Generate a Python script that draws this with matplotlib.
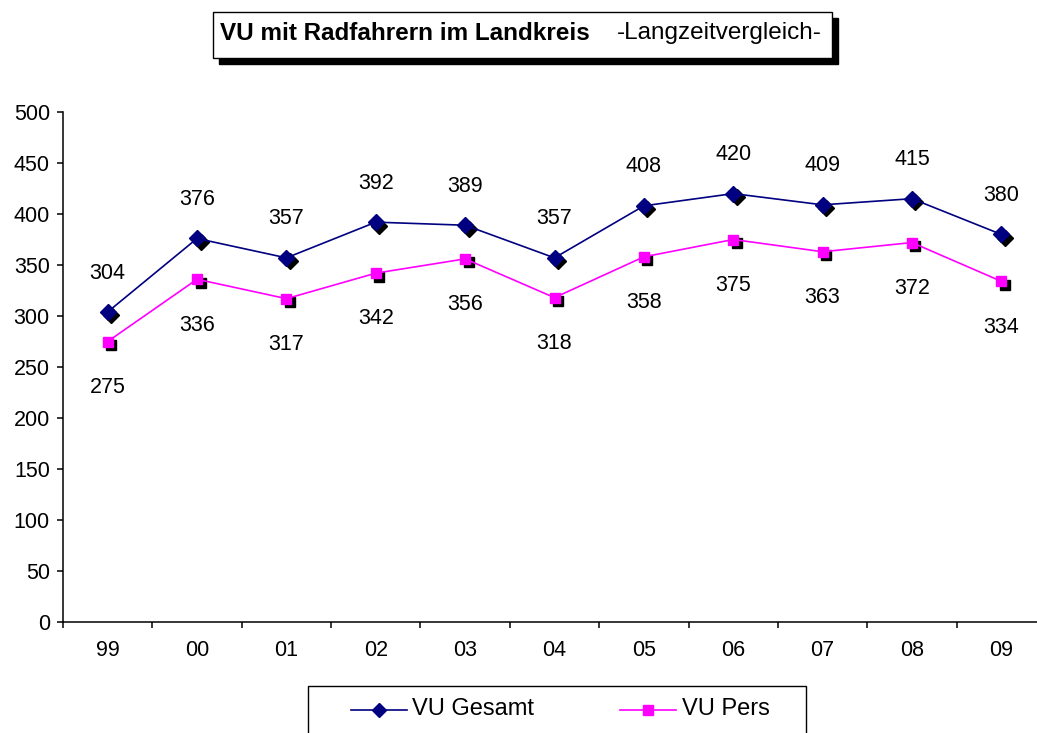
import matplotlib
matplotlib.use("Agg")
import matplotlib.pyplot as plt
import matplotlib.patches as mpatches
import matplotlib.transforms as mtransforms
from matplotlib.lines import Line2D

years = ["99", "00", "01", "02", "03", "04", "05", "06", "07", "08", "09"]
vu_gesamt = [304, 376, 357, 392, 389, 357, 408, 420, 409, 415, 380]
vu_pers = [275, 336, 317, 342, 356, 318, 358, 375, 363, 372, 334]

plt.rcParams["font.family"] = ["Liberation Sans", "DejaVu Sans"]

W, H = 1037, 733
fig = plt.figure(figsize=(W / 100, H / 100), dpi=100, facecolor="white")


def fx(px):
    return px / W


def fy(py):
    return 1 - py / H


ax = fig.add_axes([fx(63), fy(622), fx(1046 - 63), (622 - 112) / H])
ax.set_facecolor("white")

x = list(range(len(years)))
shadow = mtransforms.offset_copy(ax.transData, fig=fig, x=2.5, y=-2.5, units="points")

# black marker shadows
ax.plot(x, vu_gesamt, linestyle="none", marker="D", markersize=8.5,
        color="black", transform=shadow, zorder=2, clip_on=False)
ax.plot(x, vu_pers, linestyle="none", marker="s", markersize=7.5,
        color="black", transform=shadow, zorder=2, clip_on=False)

ax.plot(x, vu_gesamt, color="#000080", linewidth=1.2, marker="D", markersize=8.5,
        markeredgecolor="#000080", markerfacecolor="#000080", zorder=3, clip_on=False)
ax.plot(x, vu_pers, color="#ff00ff", linewidth=1.2, marker="s", markersize=7.5,
        markeredgecolor="#ff00ff", markerfacecolor="#ff00ff", zorder=3, clip_on=False)

for i, v in enumerate(vu_gesamt):
    ax.annotate(str(v), xy=(i, v), xytext=(0, 28), textcoords="offset points",
                ha="center", va="center", fontsize=15.5, color="black")
for i, v in enumerate(vu_pers):
    ax.annotate(str(v), xy=(i, v), xytext=(0, -33), textcoords="offset points",
                ha="center", va="center", fontsize=15.5, color="black")

ax.set_xlim(-0.5, len(years) - 0.5)
ax.set_ylim(0, 500)
ax.set_yticks(range(0, 501, 50))
ax.set_xticks(x)
ax.set_xticklabels(years)
ax.set_xticks([i - 0.5 for i in range(len(years) + 1)], minor=True)
ax.tick_params(axis="x", which="major", length=0, pad=13, labelsize=15.5)
ax.tick_params(axis="x", which="minor", length=4.5, width=1.1, direction="out")
ax.tick_params(axis="y", length=4.5, width=1.1, direction="out", pad=5, labelsize=15.5)
for side in ["top", "right"]:
    ax.spines[side].set_visible(False)
for side in ["left", "bottom"]:
    ax.spines[side].set_linewidth(1.1)
    ax.spines[side].set_color("black")

# title box with shadow
fig.add_artist(mpatches.Rectangle((fx(219), fy(64)), fx(833 - 214), (64 - 18) / H,
                                  transform=fig.transFigure, facecolor="black",
                                  edgecolor="black", zorder=1))
fig.add_artist(mpatches.Rectangle((fx(213), fy(58)), fx(833 - 214), (58 - 12) / H,
                                  transform=fig.transFigure, facecolor="white",
                                  edgecolor="black", linewidth=1.0, zorder=2))
fig.text(fx(220), fy(33), "VU mit Radfahrern im Landkreis", fontsize=17.5,
         fontweight="bold", ha="left", va="center", zorder=3)
fig.text(fx(617), fy(33), "-Langzeitvergleich-", fontsize=17.5,
         ha="left", va="center", zorder=3)

# legend box
fig.add_artist(mpatches.Rectangle((fx(308), fy(745)), fx(806 - 308), (745 - 686) / H,
                                  transform=fig.transFigure, facecolor="white",
                                  edgecolor="black", linewidth=1.0, zorder=2))
fig.add_artist(Line2D([fx(351), fx(407)], [fy(710), fy(710)], transform=fig.transFigure,
                      color="#000080", linewidth=1.2, zorder=3))
fig.add_artist(Line2D([fx(379)], [fy(710)], transform=fig.transFigure,
                      color="#000080", marker="D", markersize=7.5, linestyle="none", zorder=4))
fig.add_artist(Line2D([fx(620), fx(676)], [fy(710), fy(710)], transform=fig.transFigure,
                      color="#ff00ff", linewidth=1.2, zorder=3))
fig.add_artist(Line2D([fx(648)], [fy(710)], transform=fig.transFigure,
                      color="#ff00ff", marker="s", markersize=6.5, linestyle="none", zorder=4))
fig.text(fx(412), fy(709), "VU Gesamt", fontsize=17, ha="left", va="center", zorder=4)
fig.text(fx(682), fy(709), "VU Pers", fontsize=17, ha="left", va="center", zorder=4)

fig.savefig("out.png", dpi=100, facecolor="white")
